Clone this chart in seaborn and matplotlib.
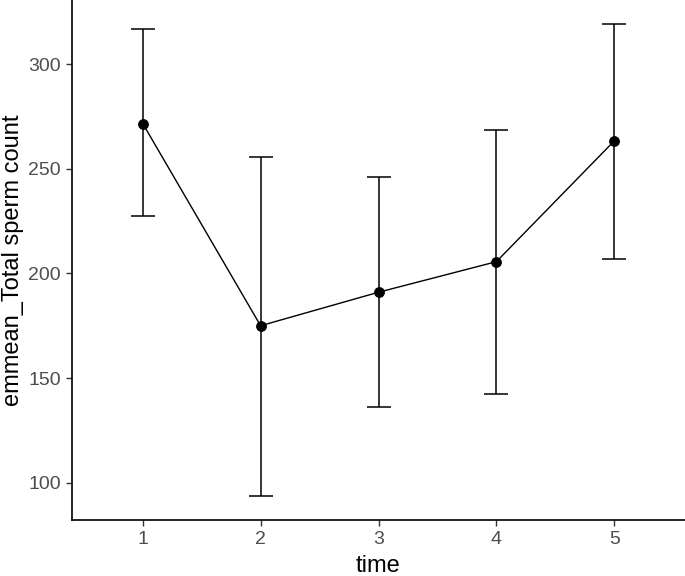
import matplotlib
matplotlib.use('Agg')

import numpy as np
import pandas as pd
import matplotlib.pyplot as plt
import seaborn as sns

# emmeans
time = [1, 2, 3, 4, 5]
emmean = [271.6, 175.0, 191.0, 205.6, 263.3]
lower_cl = [227.6, 93.5, 136.0, 142.3, 207.0]
upper_cl = [316.8, 255.7, 246.2, 268.7, 319.3]

df = pd.DataFrame({"time": time, "emmean": emmean,
                   "lower": lower_cl, "upper": upper_cl})

sns.set_theme(style="white")
plt.rcParams['font.family'] = ['Liberation Sans', 'DejaVu Sans']

fig = plt.figure(figsize=(6.85, 5.76), dpi=100)
ax = fig.add_axes([72 / 685, 1 - 520 / 576, 1 - 72 / 685, 520 / 576])

# error bars (confidence limits)
ax.errorbar(df["time"], df["emmean"],
            yerr=[df["emmean"] - df["lower"], df["upper"] - df["emmean"]],
            fmt='none', ecolor='black', elinewidth=1.1, capsize=8.6, capthick=1.1)

sns.lineplot(data=df, x="time", y="emmean", ax=ax, color='black',
             linewidth=1.0, marker='o', markersize=7, markeredgecolor='black')

ax.set_xlim(0.4, 5.6)
ax.set_ylim(82.2, 330.6)
ax.set_xticks(time)
ax.set_yticks([100, 150, 200, 250, 300])

ax.set_xlabel("time", fontsize=17, color='black', labelpad=5)
ax.set_ylabel("emmean_Total sperm count", fontsize=17, color='black', labelpad=3)

ax.tick_params(axis='both', which='major', direction='out', length=4, width=1.0,
               color='#333333', labelsize=14, labelcolor='#4D4D4D', pad=4,
               bottom=True, left=True)

for side in ['top', 'right']:
    ax.spines[side].set_visible(False)
for side in ['left', 'bottom']:
    ax.spines[side].set_color('black')
    ax.spines[side].set_linewidth(1.2)

ax.grid(False)
fig.savefig('out.png', dpi=100)
